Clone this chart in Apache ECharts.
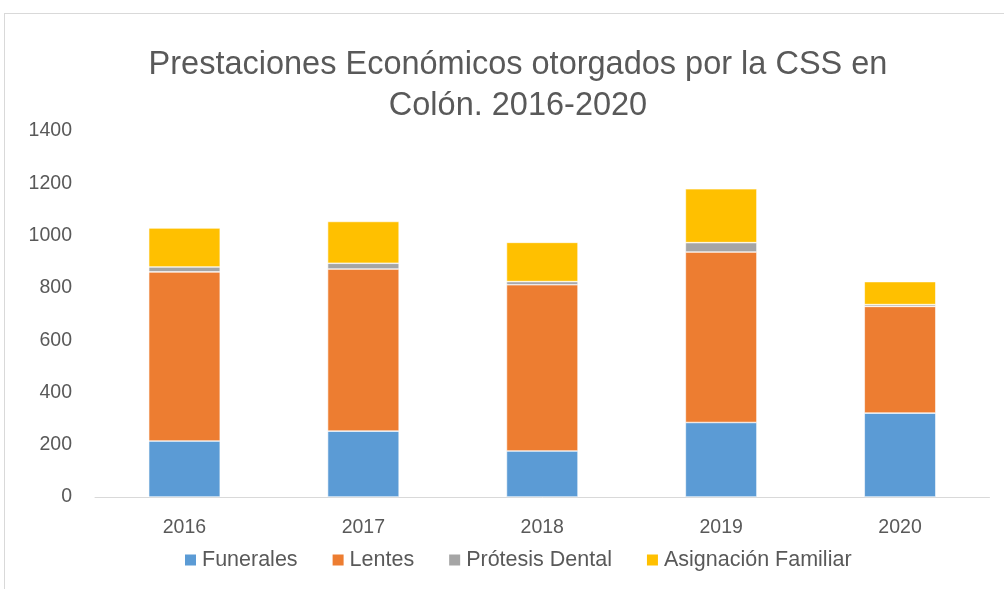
<!DOCTYPE html>
<html>
<head>
<meta charset="utf-8">
<script src="https://cdn.jsdelivr.net/npm/echarts@6/dist/echarts.min.js"></script>
<style>
  html, body { margin: 0; padding: 0; background: #fff; }
  #chart { width: 1004px; height: 589px; }
  #frame { position: absolute; left: 4px; top: 13px; width: 1010px; height: 600px;
           border-top: 1px solid #d9d9d9; border-left: 1px solid #d9d9d9; pointer-events: none; }
</style>
</head>
<body>
<div id="frame"></div>
<div id="chart"></div>
<script>
// categorías y valores
const years = ['2016', '2017', '2018', '2019', '2020']
const funerales = [214, 252, 176, 285, 321]
const lentes = [647, 620, 636, 652, 408]
const protesis = [19, 22, 12, 36, 7]
const asignacion = [149, 160, 150, 206, 88]

const font = 'Liberation Sans, Arial, sans-serif'

const chart = echarts.init(document.getElementById('chart'))

function seriesFor(name, data, color) {
  return {
    name,
    type: 'bar',
    stack: 'total',
    data,
    barWidth: '40%',
    itemStyle: { color, borderColor: '#fff', borderWidth: 0.6 }
  }
}

chart.setOption({
  animation: false,
  title: {
    text: 'Prestaciones Económicos otorgados por la CSS en\nColón. 2016-2020',
    left: 513,
    textAlign: 'center',
    top: 40,
    textStyle: { fontFamily: font, fontSize: 32.5, fontWeight: 'normal', color: '#595959', lineHeight: 41 }
  },
  legend: {
    top: 544,
    left: 178,
    itemWidth: 13,
    itemHeight: 13,
    itemGap: 33,
    icon: 'rect',
    textStyle: { fontFamily: font, fontSize: 21.5, color: '#595959' },
    data: ['Funerales', 'Lentes', 'Prótesis Dental', 'Asignación Familiar']
  },
  grid: { left: 95, right: 14.5, top: 131, bottom: 92 },
  xAxis: {
    type: 'category',
    data: years,
    axisLine: { lineStyle: { color: '#d9d9d9', width: 1 } },
    axisTick: { show: false },
    axisLabel: { fontFamily: font, fontSize: 19.5, color: '#595959', margin: 21 }
  },
  yAxis: {
    type: 'value',
    min: 0,
    max: 1400,
    interval: 200,
    splitLine: { show: false },
    axisLine: { show: false },
    axisTick: { show: false },
    axisLabel: { fontFamily: font, fontSize: 19.5, color: '#595959', margin: 23, formatter: v => String(v) }
  },
  series: [
    seriesFor('Funerales', funerales, '#5b9bd5'),
    seriesFor('Lentes', lentes, '#ed7d31'),
    seriesFor('Prótesis Dental', protesis, '#a5a5a5'),
    seriesFor('Asignación Familiar', asignacion, '#ffc000')
  ]
})
</script>
</body>
</html>
